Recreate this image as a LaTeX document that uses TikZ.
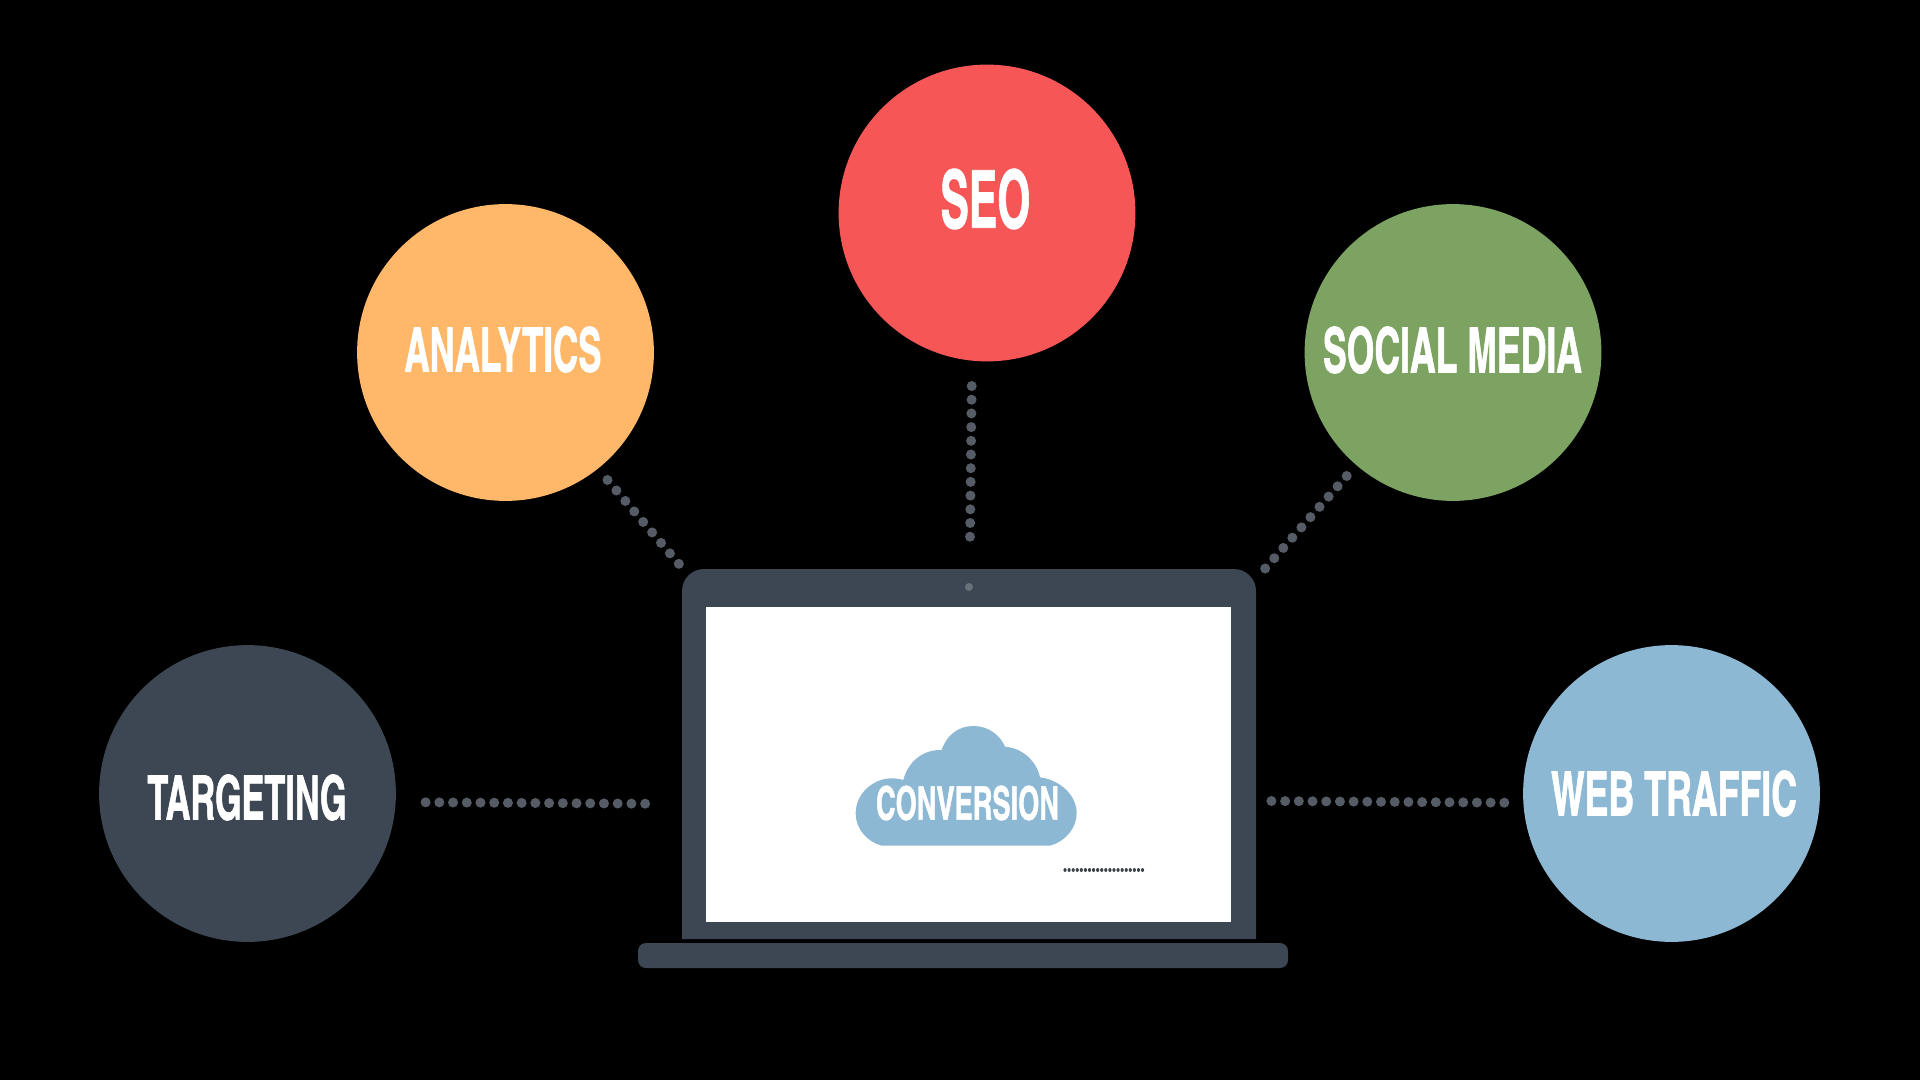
\documentclass[tikz,border=0pt]{standalone}
\usepackage{fontspec}
\usepackage{graphicx}
\setmainfont{TeX Gyre Heros Cn}[BoldFont=* Bold,BoldFeatures={FakeBold=1.2}]
\definecolor{cred}{HTML}{F65656}
\definecolor{corange}{HTML}{FFB869}
\definecolor{cgreen}{HTML}{7DA362}
\definecolor{cnavy}{HTML}{3C4753}
\definecolor{cblue}{HTML}{8DB8D3}
\definecolor{cdot}{HTML}{555C65}
\definecolor{ccam}{HTML}{68707A}
\definecolor{csmall}{HTML}{3E4247}
\tikzset{
  bubble/.style={circle,fill=#1,draw=none,minimum size=148.4pt,inner sep=0pt},
  lbl/.style={text=white,inner sep=0pt,font=\bfseries},
  dotline/.style={draw=cdot,line width=5pt,line cap=round,dash pattern=on 0.01pt off #1pt},
}
\newcommand\labeltext[5]{\node[lbl] (#1) at (#2) {\resizebox{#3pt}{#4pt}{#5}};}
\begin{document}
\begin{tikzpicture}[x=0.5pt,y=-0.5pt]
\useasboundingbox (0,0) rectangle (1920,1080);
\fill[black] (0,0) rectangle (1920,1080);
% bubbles
\node[bubble=cred] (seo) at (987,213) {};
\node[bubble=corange] (analytics) at (505.5,352.5) {};
\node[bubble=cgreen] (social) at (1453,352.5) {};
\node[bubble=cnavy] (targeting) at (247.5,793.5) {};
\node[bubble=cblue] (web) at (1671.5,793.5) {};
\labeltext{seotext}{985.5,199}{45}{29.5}{SEO}
\labeltext{analyticstext}{503,349.5}{98.5}{22.5}{ANALYTICS}
\labeltext{socialtext}{1452.5,350}{129.5}{23}{SOCIAL MEDIA}
\labeltext{targetingtext}{247,797.5}{99.5}{22.5}{TARGETING}
\labeltext{webtext}{1674,793.5}{123}{22.5}{WEB TRAFFIC}
% laptop
\fill[cnavy] (682,939) -- (682,591) arc[start angle=180,end angle=270,radius=22] -- (1234,569) arc[start angle=270,end angle=360,radius=22] -- (1256,939) -- cycle;
\fill[cnavy,rounded corners=4pt] (638,943) rectangle (1288,968);
\fill[white] (705.5,607) rectangle (1231,921.5);
\fill[ccam] (969,587) circle[radius=4];
% cloud
\begin{scope}[shift={(820,700)},scale=0.33333]
\fill[cblue] (185,437) .. controls (140,425) and (107,385) .. (107,340)
 .. controls (107,280) and (160,235) .. (215,235)
 .. controls (228,235) and (240,237) .. (250,240)
 .. controls (262,190) and (305,148) .. (365,150)
 .. controls (380,105) and (415,78) .. (460,78)
 .. controls (505,78) and (540,105) .. (555,140)
 .. controls (610,145) and (650,185) .. (660,232)
 .. controls (720,240) and (770,285) .. (770,340)
 .. controls (770,385) and (735,425) .. (690,437) -- cycle;
\end{scope}
\labeltext{conversion}{967.5,803}{91.5}{17}{CONVERSION}
% connector ends
\coordinate (seoA) at (971.7,386);
\coordinate (seoB) at (970,537);
\coordinate (anaA) at (607.5,480);
\coordinate (anaB) at (679,564);
\coordinate (socA) at (1346.7,476);
\coordinate (socB) at (1265,568.7);
\coordinate (tarA) at (425.6,802.3);
\coordinate (tarB) at (646,803.7);
\coordinate (webA) at (1271.4,801);
\coordinate (webB) at (1505,802.7);
\coordinate (smA) at (1065,870);
\coordinate (smB) at (1143,870);
\draw[dotline=6.84] (seoA) -- (seoB);
\draw[dotline=6.87] (anaA) -- (anaB);
\draw[dotline=6.84] (socA) -- (socB);
\draw[dotline=6.85] (tarA) -- (tarB);
\draw[dotline=6.84] (webA) -- (webB);
\draw[draw=csmall,line width=1.6pt,line cap=round,dash pattern=on 0.01pt off 2.03pt] (smA) -- (smB);
\end{tikzpicture}
\end{document}
